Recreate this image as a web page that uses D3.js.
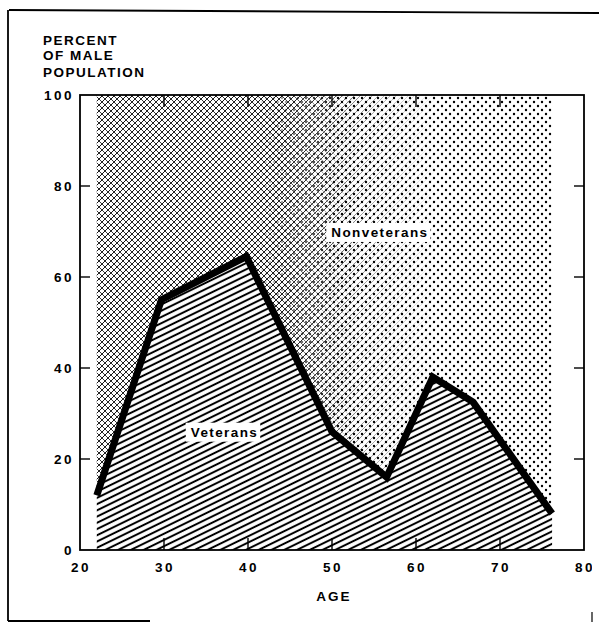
<!DOCTYPE html>
<html><head><meta charset="utf-8">
<script src="https://cdn.jsdelivr.net/npm/d3@7"></script>
<style>
html,body{margin:0;padding:0;background:#fff;}
text{font-family:"Liberation Sans",Arial,sans-serif;font-weight:bold;fill:#000;}
</style></head>
<body><svg id="c" width="599" height="623"></svg>
<script>
// Data
const ages = [22, 29.7, 39.8, 50, 56.5, 62, 66.8, 76.2];
const veterans = [12, 55, 64.5, 26, 16, 38, 32.5, 8];
const xTicks = [20, 30, 40, 50, 60, 70, 80];
const yTicks = [0, 20, 40, 60, 80, 100];
const yTitle = ["PERCENT", "OF MALE", "POPULATION"];
const xTitle = "AGE";
const labels = [{text: "Nonveterans", age: 55.7, value: 69.9}, {text: "Veterans", age: 37.2, value: 26}];

const svg = d3.select("#c");
const x = d3.scaleLinear().domain([20, 80]).range([80, 584]);
const y = d3.scaleLinear().domain([0, 100]).range([550, 95]);

const defs = svg.append("defs");
// veteran hatch
const ph = defs.append("pattern").attr("id", "hatch").attr("patternUnits", "userSpaceOnUse")
  .attr("width", 10).attr("height", 5.6).attr("patternTransform", "rotate(-26)");
ph.append("line").attr("x1", 0).attr("x2", 10).attr("y1", 2.8).attr("y2", 2.8)
  .attr("stroke", "#000").attr("stroke-width", 2);
// crosshatch (pixel-aligned diagonals)
const cs = 6;
const pc = defs.append("pattern").attr("id", "cross").attr("patternUnits", "userSpaceOnUse")
  .attr("width", cs).attr("height", cs);
pc.append("path").attr("d", `M-1,-1L${cs + 1},${cs + 1}M${cs + 1},-1L-1,${cs + 1}`).attr("stroke", "#000").attr("stroke-width", 0.8);
// single diagonals (fade zone)
const pd = defs.append("pattern").attr("id", "diag").attr("patternUnits", "userSpaceOnUse")
  .attr("width", cs).attr("height", cs);
pd.append("path").attr("d", `M${cs + 1},-1L-1,${cs + 1}`).attr("stroke", "#000").attr("stroke-width", 0.6);
// dots (staggered)
const pdot = defs.append("pattern").attr("id", "dots").attr("patternUnits", "userSpaceOnUse")
  .attr("width", 8).attr("height", 8);
pdot.append("circle").attr("cx", 2).attr("cy", 2).attr("r", 1.2).attr("fill", "#000");
pdot.append("circle").attr("cx", 6).attr("cy", 6).attr("r", 1.2).attr("fill", "#000");

// gradients for masks
function grad(id, x1, x2, c1, c2) {
  const g = defs.append("linearGradient").attr("id", id).attr("gradientUnits", "userSpaceOnUse")
    .attr("x1", x1).attr("y1", 0).attr("x2", x2).attr("y2", 0);
  g.append("stop").attr("offset", 0).attr("stop-color", c1);
  g.append("stop").attr("offset", 1).attr("stop-color", c2);
  defs.append("mask").attr("id", "m" + id).attr("maskUnits", "userSpaceOnUse").attr("x", 0).attr("y", 0).attr("width", 599).attr("height", 623)
    .append("rect").attr("x", 0).attr("y", 0).attr("width", 599).attr("height", 623).attr("fill", `url(#${id})`);
}
grad("g1", 280, 360, "#fff", "#000");
grad("g2", 320, 440, "#fff", "#000");
grad("g3", 250, 340, "#000", "#fff");
defs.append("clipPath").attr("id", "clipR").append("rect").attr("x", 0).attr("y", 0).attr("width", 592).attr("height", 623);

const pts = ages.map((a, i) => [a, veterans[i]]);
const vetArea = d3.area().x(d => x(d[0])).y0(y(0)).y1(d => y(d[1]));
const nonArea = d3.area().x(d => x(d[0])).y0(y(100)).y1(d => y(d[1]));

svg.append("path").attr("d", vetArea(pts)).attr("fill", "url(#hatch)");
svg.append("path").attr("d", nonArea(pts)).attr("fill", "url(#dots)").attr("mask", "url(#mg3)");
svg.append("path").attr("d", nonArea(pts)).attr("fill", "url(#diag)").attr("mask", "url(#mg2)");
svg.append("path").attr("d", nonArea(pts)).attr("fill", "url(#cross)").attr("mask", "url(#mg1)");

svg.append("path").attr("d", d3.line().x(d => x(d[0])).y(d => y(d[1]))(pts))
  .attr("fill", "none").attr("stroke", "#000").attr("stroke-width", 7).attr("stroke-linejoin", "miter");

// frame
svg.append("rect").attr("x", x(20)).attr("y", y(100)).attr("width", x(80) - x(20)).attr("height", y(0) - y(100))
  .attr("fill", "none").attr("stroke", "#000").attr("stroke-width", 1.8);

// ticks
const tk = svg.append("g").attr("stroke", "#000").attr("stroke-width", 1.4);
xTicks.slice(1, -1).forEach(t => {
  tk.append("line").attr("x1", x(t)).attr("x2", x(t)).attr("y1", y(0)).attr("y2", y(0) - 12);
  tk.append("line").attr("x1", x(t)).attr("x2", x(t)).attr("y1", y(100)).attr("y2", y(100) + 12);
});
yTicks.slice(1, -1).forEach(t => {
  tk.append("line").attr("x1", x(20)).attr("x2", x(20) + 10).attr("y1", y(t)).attr("y2", y(t));
  tk.append("line").attr("x1", x(80)).attr("x2", x(80) - 10).attr("y1", y(t)).attr("y2", y(t));
});

// tick labels
const tl = svg.append("g").attr("clip-path", "url(#clipR)");
xTicks.forEach(t => {
  tl.append("text").attr("x", x(t) + 1).attr("y", 572).attr("text-anchor", "middle")
    .attr("font-size", 13.5).attr("letter-spacing", 2.5).text(t);
});
yTicks.forEach(t => {
  svg.append("text").attr("x", 74).attr("y", y(t) + 5).attr("text-anchor", "end")
    .attr("font-size", 13.5).attr("letter-spacing", 2.5).text(t);
});

// titles
yTitle.forEach((s, i) => {
  svg.append("text").attr("x", 43).attr("y", [45, 60, 77][i]).attr("font-size", 13.5)
    .attr("letter-spacing", 1.5).text(s);
});
svg.append("text").attr("x", 334).attr("y", 601).attr("text-anchor", "middle")
  .attr("font-size", 13.5).attr("letter-spacing", 2).text(xTitle);

// labels with white boxes
labels.forEach(l => {
  const g = svg.append("g");
  const r = g.append("rect").attr("fill", "#fff");
  const t = g.append("text").attr("x", x(l.age)).attr("y", y(l.value) + 5).attr("text-anchor", "middle")
    .attr("font-size", 13.5).attr("letter-spacing", 1.4).text(l.text);
  const b = t.node().getBBox();
  r.attr("x", b.x - 5).attr("y", b.y - 2).attr("width", b.width + 7).attr("height", b.height + 4);
});

// outer border fragments
const ob = svg.append("g").attr("stroke", "#000").attr("stroke-width", 1.8).attr("fill", "none");
ob.append("line").attr("x1", 9).attr("y1", 10).attr("x2", 599).attr("y2", 13);
ob.append("line").attr("x1", 8).attr("y1", 10).attr("x2", 8).attr("y2", 621);
ob.append("line").attr("x1", 8).attr("y1", 621).attr("x2", 150).attr("y2", 621);
ob.append("line").attr("x1", 592).attr("y1", 612).attr("x2", 592).attr("y2", 622).attr("stroke-width", 1.2);
</script></body></html>
